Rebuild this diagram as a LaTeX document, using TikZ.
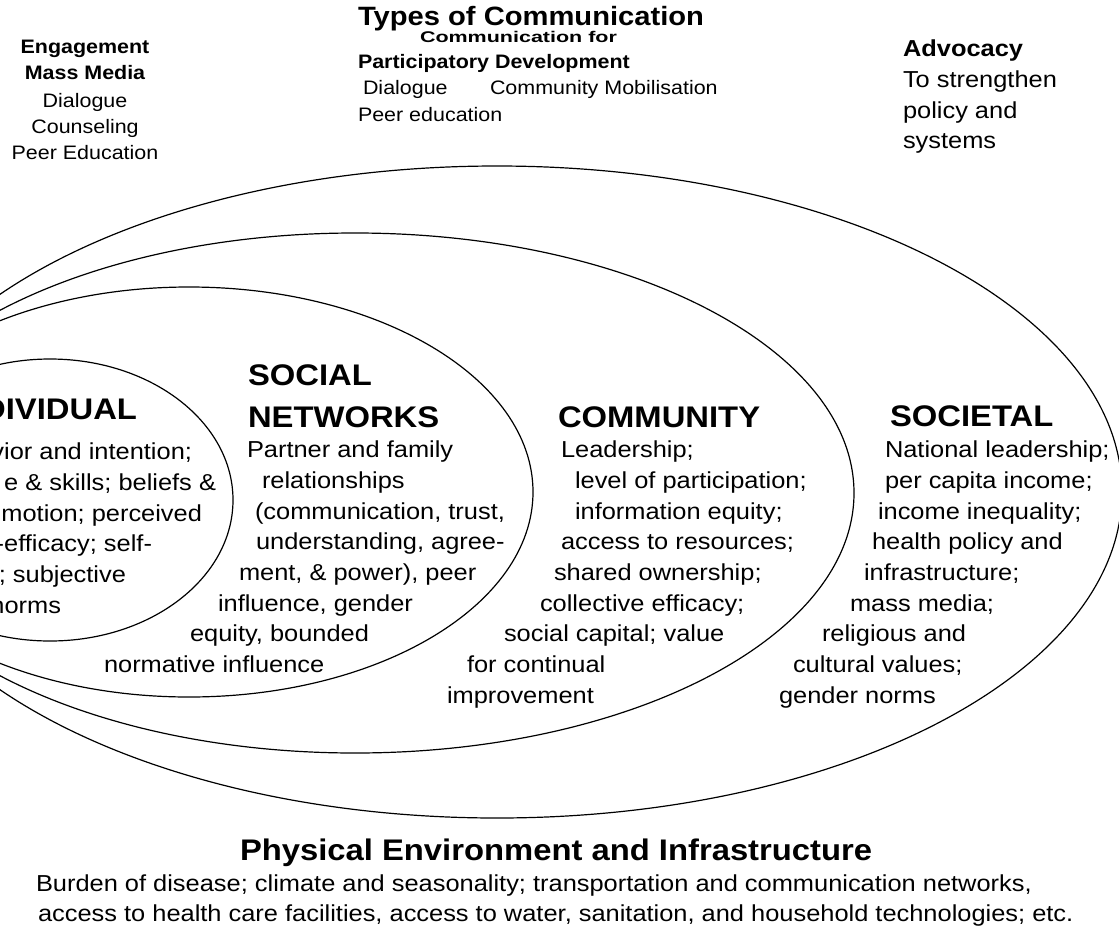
\documentclass[tikz,border=0pt]{standalone}
\usepackage{graphicx}
\usepackage{fontspec}
\setmainfont{Liberation Sans}[FakeStretch=1.1]
\begin{document}
\begin{tikzpicture}[x=1pt,y=-1pt,
  txt/.style={inner sep=0pt,outer sep=0pt},
  body/.style={txt,font=\fontsize{23.1}{30.7}\selectfont},
  small/.style={txt,font=\fontsize{19.5}{26}\selectfont},
  smallbold/.style={txt,font=\bfseries\fontsize{19.5}{26}\selectfont},
  head/.style={txt,font=\bfseries\fontsize{29.8}{36}\selectfont},
  title/.style={txt,font=\bfseries\fontsize{26.5}{32}\selectfont},
  ring/.style={draw=black,line width=1.2pt}]
\useasboundingbox (0,0) rectangle (1119,932);
\clip (0,0) rectangle (1119,932);

% nested levels of the socio-ecological model
\draw[ring] (497,492) ellipse [x radius=625pt, y radius=326pt];
\draw[ring] (355,493) ellipse [x radius=499pt, y radius=260pt];
\draw[ring] (189,492) ellipse [x radius=344pt, y radius=205pt];
\draw[ring] (50,500)  ellipse [x radius=183pt, y radius=141pt];

% communication approaches
\node[smallbold,anchor=base] (eng1) at (85,53)  {Engagement};
\node[smallbold,anchor=base] (eng2) at (85,79)  {Mass Media};
\node[small,anchor=base]     (eng3) at (85,107) {Dialogue};
\node[small,anchor=base]     (eng4) at (85,133) {Counseling};
\node[small,anchor=base]     (eng5) at (85,159) {Peer Education};

\node[title,anchor=base west]     (types) at (358,25.5) {Types of Communication};
\node[txt,font=\bfseries\fontsize{15.5}{20}\selectfont,anchor=base west] (cpd1) at (420,42.5)
  {\scalebox{1.26}[1]{Communication for}};
\node[smallbold,anchor=base west] (cpd2)  at (358,68) {Participatory Development};
\node[small,anchor=base west]     (cpd3)  at (363,94) {Dialogue};
\node[small,anchor=base west]     (cpd4)  at (490,94) {Community Mobilisation};
\node[small,anchor=base west]     (cpd5)  at (358,121) {Peer education};

\node[body,font=\bfseries\fontsize{23.1}{30.7}\selectfont,anchor=base west] (adv1) at (903,56) {Advocacy};
\node[body,anchor=base west] (adv2) at (903,87)  {To strengthen};
\node[body,anchor=base west] (adv3) at (903,118) {policy and};
\node[body,anchor=base west] (adv4) at (903,148) {systems};

% individual level
\node[head,anchor=base east] (ind0) at (137,419)   {DIVIDUAL};
\node[body,anchor=base east] (ind1) at (192,459.5) {vior and intention;};
\node[body,anchor=base east] (ind2) at (216,490)   {e \& skills; beliefs \&};
\node[body,anchor=base east] (ind3) at (202,521)   {motion; perceived};
\node[body,anchor=base east] (ind4) at (152,551.5) {f-efficacy; self-};
\node[body,anchor=base east] (ind5) at (126,582)   {; subjective};
\node[body,anchor=base east] (ind6) at (61,613)    {norms};

% social networks level
\node[head,anchor=base west] (soc0a) at (248,385)   {SOCIAL};
\node[head,anchor=base west] (soc0b) at (248,427)   {NETWORKS};
\node[body,anchor=base west] (soc1) at (247,457.5)  {Partner and family};
\node[body,anchor=base west] (soc2) at (262,488)    {relationships};
\node[body,anchor=base west] (soc3) at (255,519)    {(communication, trust,};
\node[body,anchor=base west] (soc4) at (256,549.5)  {understanding, agree-};
\node[body,anchor=base west] (soc5) at (239,580)    {ment, \& power), peer};
\node[body,anchor=base west] (soc6) at (218,611)    {influence, gender};
\node[body,anchor=base west] (soc7) at (190,641.5)  {equity, bounded};
\node[body,anchor=base west] (soc8) at (104,672)    {normative influence};

% community level
\node[head,anchor=base west] (com0) at (558,427)   {COMMUNITY};
\node[body,anchor=base west] (com1) at (561,457.5) {Leadership;};
\node[body,anchor=base west] (com2) at (575,488)   {level of participation;};
\node[body,anchor=base west] (com3) at (575,519)   {information equity;};
\node[body,anchor=base west] (com4) at (561,549.5) {access to resources;};
\node[body,anchor=base west] (com5) at (554,580)   {shared ownership;};
\node[body,anchor=base west] (com6) at (540,611)   {collective efficacy;};
\node[body,anchor=base west] (com7) at (504,641.5) {social capital; value};
\node[body,anchor=base west] (com8) at (467,672)   {for continual};
\node[body,anchor=base west] (com9) at (447,703)   {improvement};

% societal level
\node[head,anchor=base west] (sty0) at (890,426)   {SOCIETAL};
\node[body,anchor=base west] (sty1) at (885,457.5) {National leadership;};
\node[body,anchor=base west] (sty2) at (885,488)   {per capita income;};
\node[body,anchor=base west] (sty3) at (878,519)   {income inequality;};
\node[body,anchor=base west] (sty4) at (872,549.5) {health policy and};
\node[body,anchor=base west] (sty5) at (864,580)   {infrastructure;};
\node[body,anchor=base west] (sty6) at (850,611)   {mass media;};
\node[body,anchor=base west] (sty7) at (822,641.5) {religious and};
\node[body,anchor=base west] (sty8) at (793,672)   {cultural values;};
\node[body,anchor=base west] (sty9) at (779,703)   {gender norms};

% physical environment
\node[head,anchor=base west] (env0) at (240,860) {Physical Environment and Infrastructure};
\node[body,anchor=base west] (env1) at (36,891) {Burden of disease; climate and seasonality; transportation and communication networks,};
\node[body,anchor=base west] (env2) at (38,921) {access to health care facilities, access to water, sanitation, and household technologies; etc.};
\end{tikzpicture}
\end{document}
